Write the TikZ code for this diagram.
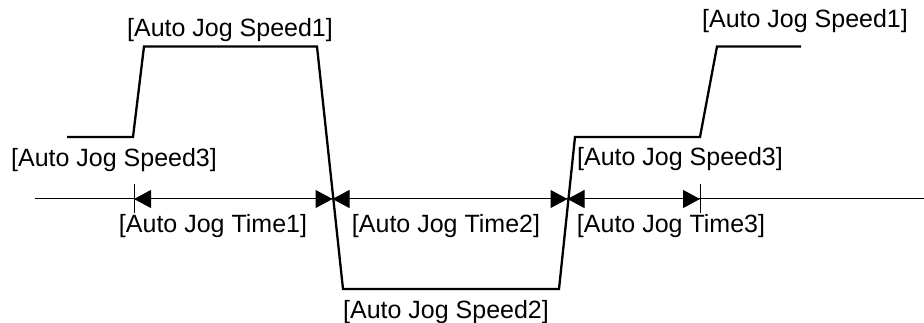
\documentclass[tikz,border=0pt]{standalone}
\usepackage{fontspec}
\setmainfont{Liberation Sans}
\usetikzlibrary{arrows.meta}
\begin{document}
\begin{tikzpicture}[x=1pt,y=-1pt,
  wave/.style={line width=2.3pt,line join=miter},
  axisline/.style={line width=1pt},
  tickmark/.style={line width=1pt},
  span/.style={line width=1pt,{Triangle[length=17pt,width=18pt]}-{Triangle[length=17pt,width=18pt]}},
  lbl/.style={anchor=base,inner sep=0pt,font=\fontsize{25pt}{30pt}\selectfont}]
\useasboundingbox (0,0) rectangle (924,323);
% waveform coordinates
\coordinate (w0) at (67,137);
\coordinate (w1) at (133,137);
\coordinate (w2) at (144,46.5);
\coordinate (w3) at (317,46.5);
\coordinate (w4) at (343,289);
\coordinate (w5) at (559,289);
\coordinate (w6) at (575,137);
\coordinate (w7) at (700,137);
\coordinate (w8) at (717,46.5);
\coordinate (w9) at (801,46.5);
\draw[wave] (w0) -- (w1) -- (w2) -- (w3) -- (w4) -- (w5) -- (w6) -- (w7) -- (w8) -- (w9);
% time axis
\coordinate (a0) at (35,199);
\coordinate (a1) at (924,199);
\draw[axisline] (a0) -- (a1);
\coordinate (t0) at (134,199);
\coordinate (t1) at (332.5,199);
\coordinate (t2) at (567.5,199);
\coordinate (t3) at (700,199);
\coordinate (k0a) at (134,184);
\coordinate (k0b) at (134,213);
\coordinate (k3a) at (700,184);
\coordinate (k3b) at (700,213);
\draw[tickmark] (k0a) -- (k0b);
\draw[tickmark] (k3a) -- (k3b);
\draw[span] (t0) -- (t1);
\draw[span] (t1) -- (t2);
\draw[span] (t2) -- (t3);
% labels
\node[lbl] (s1a) at (230,36.5) {[Auto Jog Speed1]};
\node[lbl] (s1b) at (805,28) {[Auto Jog Speed1]};
\node[lbl] (s3a) at (114,167) {[Auto Jog Speed3]};
\node[lbl] (s3b) at (680,166) {[Auto Jog Speed3]};
\node[lbl] (s2) at (446,318) {[Auto Jog Speed2]};
\node[lbl] (tm1) at (213,233) {[Auto Jog Time1]};
\node[lbl] (tm2) at (446,233) {[Auto Jog Time2]};
\node[lbl] (tm3) at (671,233) {[Auto Jog Time3]};
\end{tikzpicture}
\end{document}
